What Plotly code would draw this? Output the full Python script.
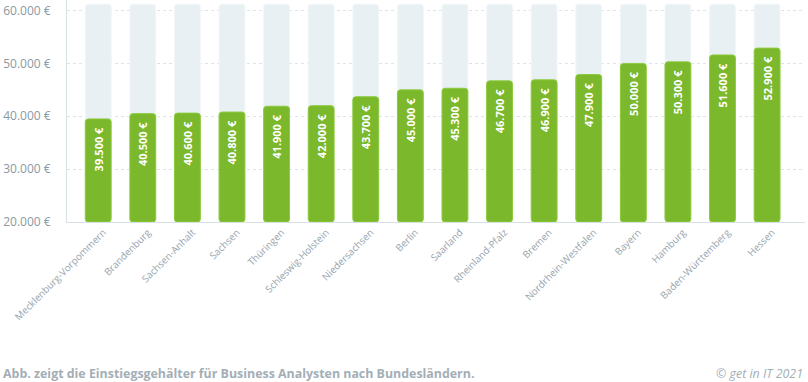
import plotly.graph_objects as go

states = ["Mecklenburg-Vorpommern", "Brandenburg", "Sachsen-Anhalt", "Sachsen", "Thüringen",
          "Schleswig-Holstein", "Niedersachsen", "Berlin", "Saarland", "Rheinland-Pfalz",
          "Bremen", "Nordrhein-Westfalen", "Bayern", "Hamburg", "Baden-Württemberg", "Hessen"]
salaries = [39500, 40500, 40600, 40800, 41900, 42000, 43700, 45000, 45300, 46700,
            46900, 47900, 50000, 50300, 51600, 52900]
bg_top = 61200
y_base = 20000
y_ticks = [20000, 30000, 40000, 50000, 60000]
y_tick_labels = ["20.000 €", "30.000 €", "40.000 €", "50.000 €", "60.000 €"]

def fmt(v):
    return f"{v:,}".replace(",", ".") + " €" + "\u00a0\u00a0"

font = "Open Sans"
grey = "#8a98a3"

fig = go.Figure()
fig.add_trace(go.Bar(
    x=states, y=[bg_top - y_base] * len(states), base=y_base,
    marker=dict(color="#e9f0f4", line=dict(color="#f2f6f9", width=1), cornerradius=3),
    width=0.58, hoverinfo="skip", showlegend=False,
))
fig.add_trace(go.Bar(
    x=states, y=[v - y_base for v in salaries], base=y_base,
    marker=dict(color="#7cb82b", line=dict(color="#8ccb3c", width=1), cornerradius=3),
    width=0.58, showlegend=False,
    text=[fmt(v) for v in salaries], textposition="inside", insidetextanchor="end",
    textangle=-90, textfont=dict(family=font, size=11, color="white", weight="bold"),
))

fig.update_layout(
    width=808, height=382, barmode="overlay",
    margin=dict(l=67, r=3, t=0, b=160),
    paper_bgcolor="white", plot_bgcolor="white",
    font=dict(family=font, color=grey),
    xaxis=dict(range=[-0.7, 15.85], tickangle=-45, tickfont=dict(size=9.8, color="#97a5af"),
               showgrid=False, showline=True, linecolor="#d9e0e4", linewidth=1,
               ticks="", automargin=False, ticklabelshift=5),
    yaxis=dict(range=[y_base, 62000], tickvals=y_ticks, ticktext=y_tick_labels,
               tickfont=dict(size=12, color=grey), showgrid=True, gridcolor="#dde4e8",
               griddash="dot", gridwidth=1, showline=True, linecolor="#d9e0e4",
               linewidth=1, zeroline=False, ticks="", ticklabelstandoff=13, automargin=False),
    annotations=[
        dict(text="<b>Abb. zeigt die Einstiegsgehälter für Business Analysten nach Bundesländern.</b>",
             xref="paper", yref="paper", x=-66/738, y=-151/222, xanchor="left", yanchor="middle",
             showarrow=False, font=dict(size=12.4, color="#a3aeb6", family=font)),
        dict(text="<i>© get in IT 2021</i>", xref="paper", yref="paper", x=1, y=-151/222,
             xanchor="right", yanchor="middle", showarrow=False,
             font=dict(size=12.4, color="#a3aeb6", family=font)),
    ],
)

fig.write_html("out.html", config={"displayModeBar": False},
               post_script="document.body.style.margin='0';document.body.style.overflow='hidden';")
